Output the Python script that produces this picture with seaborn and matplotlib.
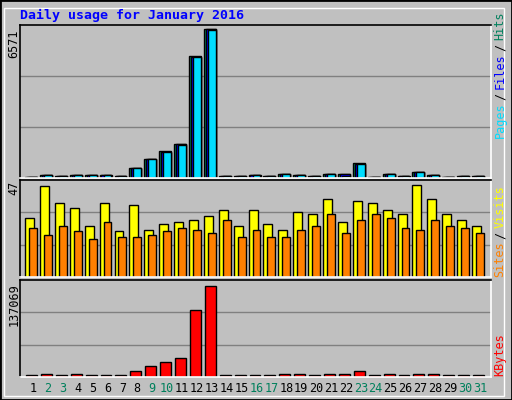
import matplotlib
matplotlib.use("Agg")
import matplotlib.pyplot as plt
import seaborn as sns
import pandas as pd
import numpy as np

days = list(range(1, 32))
hits = [60,150,100,150,150,150,100,460,860,1175,1490,5370,6571,100,100,150,100,190,150,100,190,190,640,60,190,100,280,150,60,100,100]
files = [56,140,95,140,140,140,95,450,850,1165,1480,5350,6560,95,95,140,95,180,140,95,180,170,630,56,180,95,270,140,56,95,95]
pages = [50,130,90,130,130,130,90,440,840,1160,1470,5340,6550,90,90,130,90,175,130,90,175,110,620,50,175,90,260,130,50,90,90]
visits = [30,46.5,38,35,26,38,23.5,37,24,27,28,29,31,34,26,34,27,24,33,32,40,28,39,38,34,32,47,40,32,29,26]
sites = [25,21.5,26,23.5,19.5,28,20.5,20.5,21.5,23.5,25,24,22.5,29,20.5,24,20.5,20.5,24,26,32,22.5,29,32,30,25,24,29,26,25,22.5]
kbytes = [2500,4500,2500,4500,2500,2500,2500,9500,17000,23000,29000,101000,137069,2500,2500,2500,2500,4500,4500,2500,4500,4500,9500,2500,4500,2500,4500,4500,2500,2500,2500]
weekend = [2,3,9,10,16,17,23,24,30,31]

BG = "#C0C0C0"
W, H = 512, 400
fig = plt.figure(figsize=(5.12, 4.0), dpi=100, facecolor=BG)
sns.set_style("white")
plt.rcParams['font.family'] = ['DejaVu Sans Mono', 'DejaVu Sans']

fig.patches.append(plt.Rectangle((0, 0), 1, 1, transform=fig.transFigure, fill=False, ec="black", lw=2))
fig.patches.append(plt.Rectangle((4/W, 4/H), (W-12)/W, (H-12)/H, transform=fig.transFigure, fill=False, ec="white", lw=1))

def mkax(top, bottom):
    ax = fig.add_axes([20/W, 1-bottom/H, (491-20)/W, (bottom-top)/H])
    ax.set_facecolor(BG)
    ax.set_xlim(0.127, 31.74)
    for s in ["left", "top"]:
        ax.spines[s].set_color("black")
    for s in ["right", "bottom"]:
        ax.spines[s].set_color("white")
    for s in ax.spines.values():
        s.set_linewidth(1.2)
    ax.set_xticks([]); ax.set_yticks([])
    return ax

def bars(ax, vals, off, width, color):
    df = pd.DataFrame({"x": np.array(days) + off, "y": vals})
    sns.barplot(data=df, x="x", y="y", native_scale=True, width=width,
                color=color, edgecolor="black", linewidth=1, saturation=1, ax=ax, errorbar=None)
    ax.set_xlabel(""); ax.set_ylabel("")
    ax.set_xlim(0.127, 31.74)

def grid(ax, ymax):
    for f in (1/3, 2/3):
        ax.axhline(ymax*f, color="#808080", lw=1, zorder=0)

ax1 = mkax(25, 178)
ym1 = 6571*152/148
ax1.set_ylim(0, ym1); grid(ax1, ym1)
bars(ax1, hits, -0.13, 0.8, "#00805C")
bars(ax1, files, -0.07, 0.67, "#0000FF")
bars(ax1, pages, 0.0, 0.53, "#00DDFF")
ax1.set_ylim(0, ym1); ax1.set_xticks([]); ax1.set_yticks([])

ax2 = mkax(180, 277)
ym2 = 47*97/92
ax2.set_ylim(0, ym2); grid(ax2, ym2)
bars(ax2, visits, -0.23, 0.6, "#FFFF00")
bars(ax2, sites, 0.0, 0.53, "#FF8000")
ax2.set_ylim(0, ym2); ax2.set_xticks([]); ax2.set_yticks([])

ax3 = mkax(280, 377)
ym3 = 137069*97/91
ax3.set_ylim(0, ym3); grid(ax3, ym3)
bars(ax3, kbytes, -0.1, 0.73, "#FF0000")
ax3.set_ylim(0, ym3); ax3.set_xticks([]); ax3.set_yticks([])

for d in days:
    xpx = 33 + 14.9*(d-1)
    fig.text(xpx/W, 1-389/H, str(d), ha="center", va="center", fontsize=8.5,
             color="#00805C" if d in weekend else "black")

for txt, y in (("6571", 30), ("47", 181), ("137069", 283)):
    fig.text(14/W, 1-y/H, txt, rotation=90, ha="center", va="top", fontsize=8.5, color="black")

def rlabel(parts, ybottom):
    y = ybottom
    for t, c in parts:
        fig.text(500/W, 1-y/H, t, rotation=90, ha="center", va="bottom", fontsize=8.5, color=c)
        y -= 6.8*len(t) + 4

rlabel([("Pages", "#00DDFF"), ("/", "black"), ("Files", "#0000FF"), ("/", "black"), ("Hits", "#00805C")], 138)
rlabel([("Sites", "#FF8000"), ("/", "black"), ("Visits", "#FFFF00")], 277)
rlabel([("KBytes", "#FF0000")], 376)

fig.text(20/W, 1-15/H, "Daily usage for January 2016", ha="left", va="center",
         fontsize=9.5, fontweight="bold", color="#0000FF")

fig.savefig("out.png", dpi=100, facecolor=BG)
